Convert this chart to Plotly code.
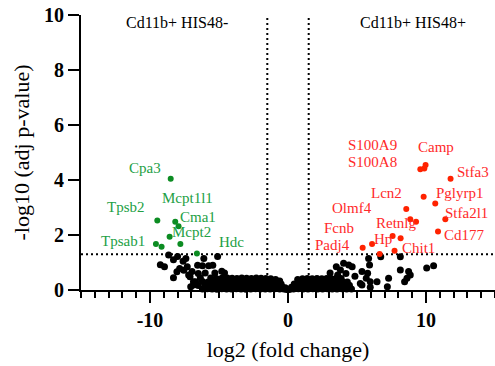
import plotly.graph_objects as go

# ---------------- data ----------------
# significant up (HIS48+), red
up_x = [9.59, 9.88, 9.97, 11.78, 9.83, 10.67, 8.57, 8.86, 9.28, 11.40, 10.87, 7.58, 8.16, 6.09, 5.41, 7.72, 6.64]
up_y = [4.39, 4.42, 4.55, 4.05, 3.39, 3.15, 2.95, 2.57, 2.48, 2.57, 2.13, 1.96, 1.88, 1.67, 1.54, 1.43, 1.31]

# significant down (HIS48-), green
down_x = [-8.50, -9.47, -8.17, -7.93, -8.58, -9.57, -9.16, -7.80, -6.60]
down_y = [4.05, 2.53, 2.48, 2.32, 1.94, 1.67, 1.57, 1.67, 1.33]

# non-significant genes, black
ns_x = [
    # scattered, left
    -9.25, -8.95, -8.65, -8.30, -8.00, -7.60, -7.40, -7.30, -7.85, -8.05, -7.55, -8.30, -7.20, -6.95,
    -6.55, -6.20, -5.75, -5.45, -6.10, -5.10, -4.80, -6.85, -7.05, -6.35, -7.10, -6.85, -6.50, -6.00,
    -5.30, -4.60,
    # scattered, right
    3.05, 3.80, 4.03, 4.40, 4.65, 5.84, 5.91, 5.77, 5.36, 5.67, 5.24, 5.96, 6.72, 7.29, 7.20, 8.14,
    8.74, 8.62, 8.86, 10.05, 10.55, 8.14, 8.45, 6.45, 5.36, 5.96, 3.50, 4.20, 4.85, 3.60,
    # dense mass, left
    -6.20, -5.85, -5.50, -5.15, -4.80, -4.45, -4.10, -3.75, -3.40, -3.05, -2.70, -2.35, -2.00, -1.65,
    -1.30, -0.95, -0.60, -0.30, -0.10,
    -6.50, -6.00, -5.60, -5.30, -4.90, -4.60, -4.20, -3.90, -3.50, -3.20, -2.85, -2.50, -2.15, -1.80,
    -1.45, -1.10, -0.75, -0.45, -0.20,
    -6.70, -6.20, -5.80, -5.40, -5.00, -4.65, -4.30, -3.95, -3.60, -3.25, -2.90, -2.55, -2.20, -1.85,
    -1.50, -1.15, -0.80, -0.50,
    -5.60, -5.20, -4.80, -4.40, -4.05, -3.70, -3.35, -3.00, -2.65, -2.30, -1.95, -1.60, -1.25, -0.90,
    -0.60,
    # dense mass, right
    0.10, 0.40, 0.75, 1.10, 1.45, 1.80, 2.15, 2.50, 2.85, 3.20, 3.55, 3.90, 4.25, 4.60,
    0.25, 0.60, 0.95, 1.30, 1.65, 2.00, 2.35, 2.70, 3.05, 3.40, 3.75, 4.10, 4.45,
    0.45, 0.80, 1.15, 1.50, 1.85, 2.20, 2.55, 2.90, 3.25, 3.60, 3.95, 4.30,
    0.70, 1.05, 1.40, 1.75, 2.10, 2.45, 2.80, 3.15, 3.50, 3.85,
]
ns_y = [
    # scattered, left
    0.92, 0.85, 1.27, 1.10, 1.22, 1.05, 1.15, 0.85, 0.78, 0.66, 0.72, 0.45, 0.55, 0.67,
    0.90, 0.88, 0.88, 0.90, 1.15, 1.22, 0.68, 0.30, 0.12, 0.45, 0.48, 0.18, 0.60, 0.62,
    0.62, 0.62,
    # scattered, right
    0.62, 0.73, 0.97, 0.91, 0.85, 1.15, 0.91, 0.61, 0.67, 0.43, 0.24, 0.30, 1.21, 0.43, 0.12, 0.73,
    0.67, 0.43, 0.55, 0.80, 0.88, 1.21, 0.30, 0.30, 0.18, 0.10, 0.85, 0.60, 0.50, 0.55,
    # dense mass, left
    0.04, 0.05, 0.04, 0.03, 0.05, 0.04, 0.04, 0.05, 0.04, 0.03, 0.04, 0.05, 0.04, 0.04,
    0.04, 0.05, 0.04, 0.04, 0.02,
    0.16, 0.18, 0.17, 0.16, 0.17, 0.18, 0.16, 0.17, 0.17, 0.16, 0.18, 0.17, 0.16, 0.17,
    0.17, 0.16, 0.17, 0.14, 0.08,
    0.30, 0.31, 0.29, 0.30, 0.31, 0.30, 0.29, 0.31, 0.30, 0.29, 0.30, 0.31, 0.30, 0.29,
    0.30, 0.29, 0.27, 0.22,
    0.44, 0.42, 0.43, 0.44, 0.43, 0.42, 0.44, 0.43, 0.42, 0.44, 0.43, 0.42, 0.41, 0.38,
    0.33,
    # dense mass, right
    0.02, 0.04, 0.05, 0.04, 0.04, 0.05, 0.04, 0.04, 0.05, 0.04, 0.04, 0.05, 0.04, 0.04,
    0.10, 0.16, 0.17, 0.16, 0.17, 0.16, 0.17, 0.16, 0.17, 0.16, 0.17, 0.16, 0.17,
    0.22, 0.29, 0.30, 0.29, 0.30, 0.29, 0.30, 0.29, 0.30, 0.29, 0.30, 0.29,
    0.38, 0.41, 0.42, 0.41, 0.42, 0.41, 0.42, 0.41, 0.43, 0.42,
]

# gene labels
down_labels = ["Cpa3", "Mcpt1l1", "Tpsb2", "Cma1", "Mcpt2", "Tpsab1", "Hdc"]
up_labels = ["S100A9", "S100A8", "Camp", "Stfa3", "Lcn2", "Pglyrp1", "Olmf4", "Stfa2l1",
             "Fcnb", "Retnlg", "Cd177", "Padj4", "Hp", "Chit1"]

x_ticks = [-10, 0, 10]
x_ticktext = ["-10", "0", "10"]
y_ticks = [0, 2, 4, 6, 8, 10]

padj_line = 1.3     # -log10(0.05)
fc_line = 1.5

group_titles = ["Cd11b+ HIS48-", "Cd11b+ HIS48+"]

# ---------------- layout positions (not data) ----------------
down_label_pos = {
    "Cpa3": (-10.39, 4.43), "Mcpt1l1": (-7.25, 3.33), "Tpsb2": (-11.74, 3.01),
    "Cma1": (-6.52, 2.64), "Mcpt2": (-6.96, 2.10), "Tpsab1": (-11.99, 1.79), "Hdc": (-4.06, 1.76),
}
up_label_pos = {
    "S100A9": (6.09, 5.27), "S100A8": (6.09, 4.67), "Camp": (10.72, 5.19), "Stfa3": (13.38, 4.30),
    "Lcn2": (7.17, 3.52), "Pglyrp1": (12.49, 3.52), "Olmf4": (4.64, 2.97), "Stfa2l1": (12.97, 2.79),
    "Fcnb": (3.72, 2.24), "Retnlg": (7.83, 2.43), "Cd177": (12.78, 2.00), "Padj4": (3.23, 1.64),
    "Hp": (6.91, 1.85), "Chit1": (9.46, 1.52),
}
title_pos = [(-8.04, 9.71), (9.08, 9.71)]

FONT = "Liberation Serif, Times New Roman, serif"
RED_PT, RED_TXT = "#ff2200", "#ff2a2a"
GRN_PT, GRN_TXT = "#0c8c22", "#22a044"

fig = go.Figure()

fig.add_trace(go.Scatter(x=ns_x, y=ns_y, mode="markers", cliponaxis=False,
                         marker=dict(color="black", size=7, line=dict(width=0)), showlegend=False))
fig.add_trace(go.Scatter(x=down_x, y=down_y, mode="markers", cliponaxis=False,
                         marker=dict(color=GRN_PT, size=6, line=dict(width=0)), showlegend=False))
fig.add_trace(go.Scatter(x=up_x, y=up_y, mode="markers", cliponaxis=False,
                         marker=dict(color=RED_PT, size=6, line=dict(width=0)), showlegend=False))

# threshold lines
dash = "2px,3px"
fig.add_shape(type="line", xref="x", yref="y", x0=-15, x1=15, y0=padj_line, y1=padj_line,
              line=dict(color="black", width=2, dash=dash), layer="below")
for v in (-fc_line, fc_line):
    fig.add_shape(type="line", xref="x", yref="y", x0=v, x1=v, y0=0, y1=10,
                  line=dict(color="black", width=2, dash=dash), layer="below")

ann = []
for name in down_labels:
    lx, ly = down_label_pos[name]
    ann.append(dict(x=lx, y=ly, xref="x", yref="y", text=name, showarrow=False,
                    font=dict(family=FONT, size=15, color=GRN_TXT)))
for name in up_labels:
    lx, ly = up_label_pos[name]
    ann.append(dict(x=lx, y=ly, xref="x", yref="y", text=name, showarrow=False,
                    font=dict(family=FONT, size=15, color=RED_TXT)))
for t, (tx, ty) in zip(group_titles, title_pos):
    ann.append(dict(x=tx, y=ty, xref="x", yref="y", text=t, showarrow=False,
                    font=dict(family=FONT, size=16, color="black")))

fig.update_layout(
    width=495, height=366,
    margin=dict(l=81, r=0, t=15, b=76),
    paper_bgcolor="white", plot_bgcolor="white",
    annotations=ann,
    xaxis=dict(range=[-15, 15], tickvals=x_ticks, ticktext=x_ticktext,
               showgrid=False, zeroline=False, showline=True, linecolor="black", linewidth=2,
               ticks="outside", ticklen=11, tickwidth=2, tickcolor="black",
               minor=dict(dtick=1, ticks="outside", ticklen=6, tickwidth=2, tickcolor="black",
                          showgrid=False),
               tickfont=dict(family=FONT, size=20, color="black", weight="bold"),
               title=dict(text="log2 (fold change)", standoff=12,
                          font=dict(family=FONT, size=22, color="black"))),
    yaxis=dict(range=[0, 10], tickvals=y_ticks,
               showgrid=False, zeroline=False, showline=True, linecolor="black", linewidth=2,
               ticks="outside", ticklen=11, tickwidth=2, tickcolor="black",
               tickfont=dict(family=FONT, size=20, color="black", weight="bold"),
               title=dict(text="-log10 (adj p-value)", standoff=8,
                          font=dict(family=FONT, size=22, color="black"))),
)

fig.write_html("out.html")
